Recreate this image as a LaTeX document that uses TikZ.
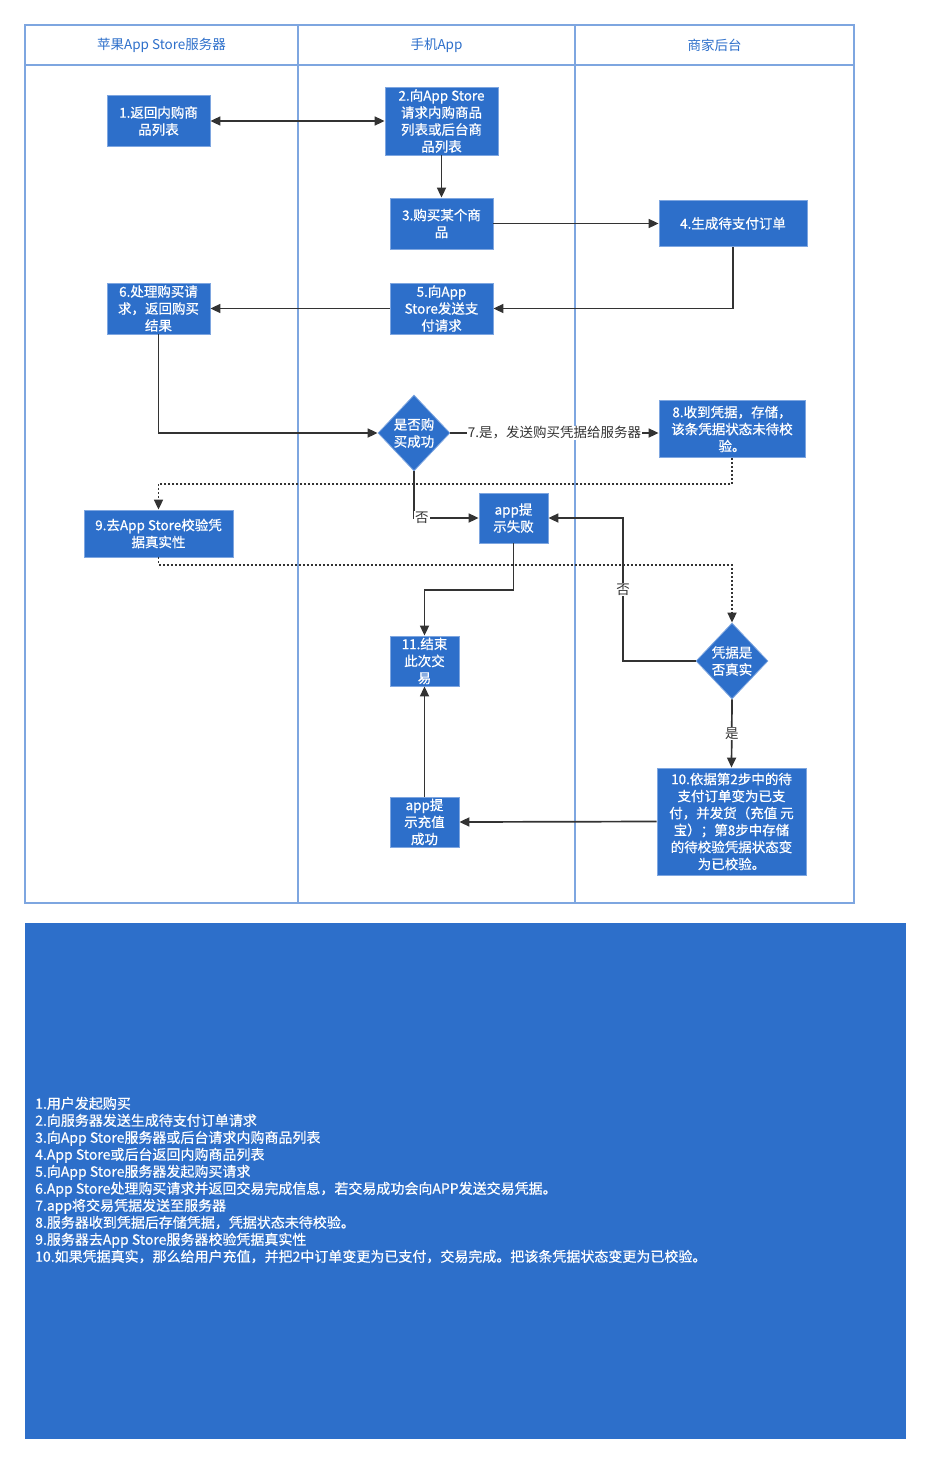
\documentclass[tikz,border=0pt]{standalone}
\usepackage{fontspec}
\setmainfont{Noto Sans CJK SC}
\newfontfamily\heavyface{Noto Sans CJK SC}[FakeBold=0.6]
\usepackage{tikz}
\usetikzlibrary{arrows.meta, shapes.geometric}

\definecolor{boxblue}{HTML}{2D6FCA}
\definecolor{laneline}{HTML}{7EA6E0}
\definecolor{flowgray}{HTML}{333333}
\newcommand{\boxfont}{\fontsize{13.5}{17}\selectfont}
\newcommand{\whitefont}{\heavyface\fontsize{13.5}{17}\selectfont}
\newcommand{\notefont}{\heavyface\fontsize{14}{17}\selectfont}

\begin{document}
\begin{tikzpicture}[x=1pt, y=-1pt,
  stepbox/.style={draw=laneline, line width=0.8pt, fill=boxblue, text=white, align=center,
    font=\whitefont, inner sep=0pt},
  decide/.style={diamond, draw=laneline, line width=0.8pt, fill=boxblue, text=white, align=center,
    font=\whitefont, inner sep=0pt, minimum width=72pt, minimum height=76pt},
  flow/.style={-{Triangle[length=10pt, width=9pt]}, line width=1.7pt, flowgray},
  check/.style={flow, dash pattern=on 2pt off 2pt},
  lbl/.style={fill=white, text=flowgray, font=\boxfont, inner sep=1pt}]
  \useasboundingbox (0,0) rectangle (932,1464);

  % Swimlanes
  \draw[laneline, line width=1.5pt] (25,25) rectangle (854,903);
  \draw[laneline, line width=1.5pt] (25,65) -- (854,65);
  \draw[laneline, line width=1.5pt] (298,25) -- (298,903);
  \draw[laneline, line width=1.5pt] (575,25) -- (575,903);
  \node[text=boxblue, font=\boxfont] (laneA) at (161.5,45) {苹果App Store服务器};
  \node[text=boxblue, font=\boxfont] (laneB) at (436.5,45) {手机App};
  \node[text=boxblue, font=\boxfont] (laneC) at (714.5,45) {商家后台};

  % Steps
  \node[stepbox, minimum width=103pt, minimum height=51pt] (n1) at (158.5,121) {1.返回内购商\\品列表};
  \node[stepbox, minimum width=113pt, minimum height=68pt] (n2) at (441.5,121) {2.向App Store\\请求内购商品\\列表或后台商\\品列表};
  \node[stepbox, minimum width=103pt, minimum height=51pt] (n3) at (441.5,223.5) {3.购买某个商\\品};
  \node[stepbox, minimum width=148pt, minimum height=46pt] (n4) at (733,223.5) {4.生成待支付订单};
  \node[stepbox, minimum width=103pt, minimum height=51pt] (n5) at (441.5,308.5) {5.向App\\Store发送支\\付请求};
  \node[stepbox, minimum width=103pt, minimum height=51pt] (n6) at (158.5,308.5) {6.处理购买请\\求，返回购买\\结果};
  \node[decide] (q1) at (414,433) {是否购\\买成功};
  \node[stepbox, minimum width=146pt, minimum height=57pt] (n8) at (732,429) {8.收到凭据，存储，\\该条凭据状态未待校\\验。};
  \node[stepbox, minimum width=149pt, minimum height=47pt] (n9) at (158.5,533.5) {9.去App Store校验凭\\据真实性};
  \node[stepbox, minimum width=69pt, minimum height=50pt] (fail) at (513.5,518) {app提\\示失败};
  \node[stepbox, minimum width=69pt, minimum height=50pt] (n11) at (424.5,661) {11.结束\\此次交\\易};
  \node[decide] (q2) at (732,661) {凭据是\\否真实};
  \node[stepbox, minimum width=149pt, minimum height=107pt] (n10) at (731.5,821.5) {10.依据第2步中的待\\支付订单变为已支\\付，并发货（充值 元\\宝）；第8步中存储\\的待校验凭据状态变\\为已校验。};
  \node[stepbox, minimum width=69pt, minimum height=50pt] (ok) at (424.5,822) {app提\\示充值\\成功};

  % Connectors
  \draw[flow, {Triangle[length=10pt, width=9pt]}-{Triangle[length=10pt, width=9pt]}] (n1.east) -- (n2.west);
  \draw[flow] (n2.south) -- (n3.north);
  \draw[flow] (n3.east) -- (n4.west);
  \draw[flow] (n4.south) |- (n5.east);
  \draw[flow] (n5.west) -- (n6.east);
  \draw[flow] (n6.south) |- (q1.west);
  \draw[flow] (q1.east) -- node[lbl] {7.是，发送购买凭据给服务器} (q1.east -| n8.west);
  \draw[check] (n8.south) -- (n8.south |- 0,484) -| (n9.north);
  \draw[flow] (q1.south) |- node[lbl, pos=0.56] {否} (fail.west);
  \draw[check] (n9.south) -- (n9.south |- 0,565) -| (q2.north);
  \coordinate (back) at (623,518);
  \draw[flow] (q2.west) -| node[lbl, pos=0.75] {否} (back) -- (fail.east);
  \draw[flow] (fail.south) -- (fail.south |- 0,590) -| (n11.north);
  \draw[flow] (q2.south) -- node[lbl] {是} (n10.north);
  \draw[flow] (n10.west) -- (ok.east);
  \draw[flow] (ok.north) -- (n11.south);

  % Notes
  \fill[boxblue] (25,923) rectangle (906,1439);
  \node[anchor=west, align=left, text=white, font=\notefont, inner sep=0pt] (notes) at (35,1180) {1.用户发起购买\\
    2.向服务器发送生成待支付订单请求\\
    3.向App Store服务器或后台请求内购商品列表\\
    4.App Store或后台返回内购商品列表\\
    5.向App Store服务器发起购买请求\\
    6.App Store处理购买请求并返回交易完成信息，若交易成功会向APP发送交易凭据。\\
    7.app将交易凭据发送至服务器\\
    8.服务器收到凭据后存储凭据，凭据状态未待校验。\\
    9.服务器去App Store服务器校验凭据真实性\\
    10.如果凭据真实，那么给用户充值，并把2中订单变更为已支付，交易完成。把该条凭据状态变更为已校验。};
\end{tikzpicture}
\end{document}
